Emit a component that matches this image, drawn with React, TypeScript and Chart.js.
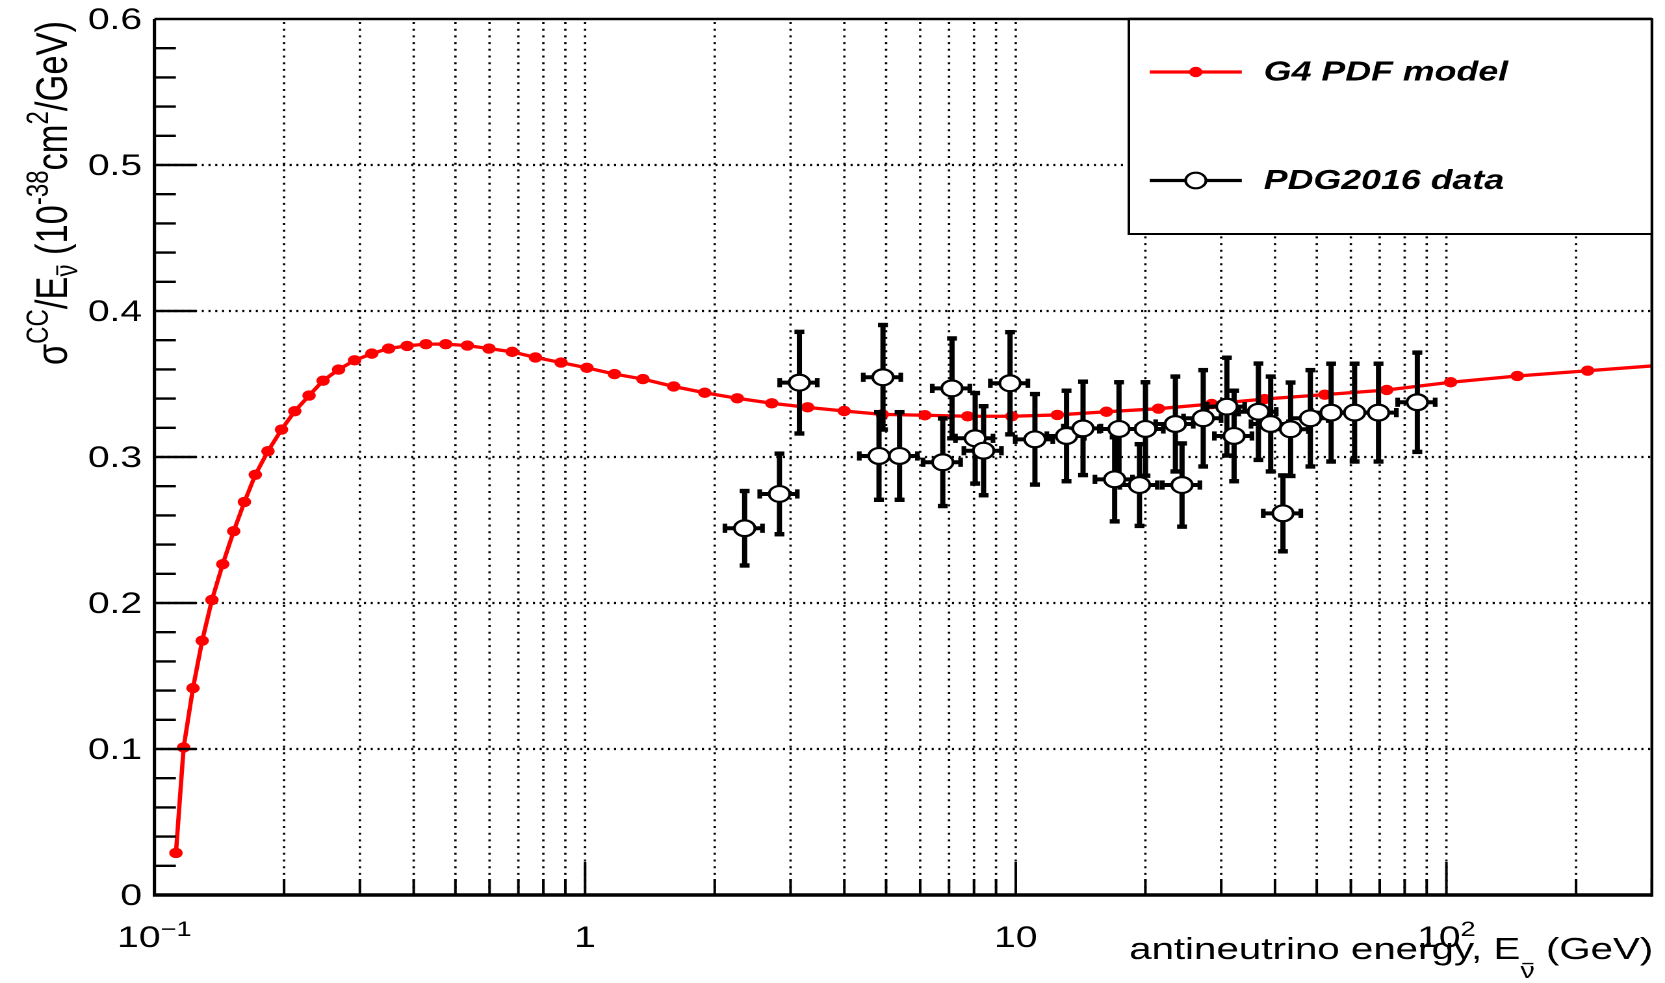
import React, { useEffect, useRef } from 'react';
import { Chart, registerables } from 'chart.js';

Chart.register(...registerables);

// ---------------- data ----------------
const G4_ENERGY = [0.1122, 0.1169, 0.1229, 0.1291, 0.136, 0.1441, 0.1528, 0.1618, 0.1715, 0.1835, 0.1973, 0.2118, 0.2286, 0.2464, 0.2677, 0.2916, 0.3197, 0.3499, 0.3861, 0.4271, 0.4749, 0.533, 0.5982, 0.6773, 0.7669, 0.8794, 1.0095, 1.1703, 1.3625, 1.606, 1.896, 2.256, 2.713, 3.287, 3.996, 4.899, 6.151, 7.733, 9.79, 12.49, 16.24, 21.45, 28.5, 37.84, 52.2, 72.7, 102.3, 146.1, 212.8, 320];
const G4_SIGMA = [0.0288, 0.1011, 0.1417, 0.1742, 0.2021, 0.2266, 0.2492, 0.2692, 0.2878, 0.304, 0.3188, 0.3314, 0.3421, 0.3523, 0.3599, 0.3662, 0.3708, 0.3743, 0.3761, 0.3773, 0.3773, 0.3763, 0.3743, 0.372, 0.3682, 0.3647, 0.3611, 0.3568, 0.3534, 0.3483, 0.344, 0.3402, 0.3368, 0.334, 0.3315, 0.3292, 0.3286, 0.3279, 0.3279, 0.3288, 0.331, 0.3331, 0.3363, 0.3397, 0.3427, 0.3459, 0.3512, 0.3555, 0.3591, 0.363];

const PDG_ENERGY = [2.347, 2.827, 3.145, 4.814, 4.917, 5.373, 6.77, 7.112, 8.05, 8.42, 9.7, 11.08, 13.12, 14.33, 16.97, 17.37, 19.38, 20.01, 23.48, 24.33, 27.25, 30.92, 32.14, 36.6, 39.08, 41.73, 43.47, 48.33, 53.99, 61.21, 69.56, 85.6];
const PDG_SIGMA = [0.2512, 0.2747, 0.3509, 0.3007, 0.3546, 0.3007, 0.2964, 0.347, 0.3128, 0.3043, 0.3505, 0.3121, 0.3144, 0.3196, 0.2847, 0.3192, 0.2808, 0.3192, 0.3226, 0.2808, 0.3265, 0.3345, 0.3144, 0.331, 0.3226, 0.2614, 0.319, 0.3265, 0.3304, 0.3304, 0.3304, 0.3375];
const PDG_ERR = [0.0255, 0.0276, 0.0348, 0.03, 0.0358, 0.03, 0.03, 0.0342, 0.031, 0.0305, 0.035, 0.031, 0.031, 0.032, 0.0288, 0.032, 0.028, 0.032, 0.0325, 0.0285, 0.033, 0.0335, 0.031, 0.033, 0.0325, 0.026, 0.032, 0.033, 0.0335, 0.0335, 0.0335, 0.034];
const PDG_XERR_FRAC = 0.1;

const X_MIN = 0.1;
const X_MAX = 300;
const Y_MIN = 0;
const Y_MAX = 0.6;
const Y_TICK_VALUES = [0, 0.1, 0.2, 0.3, 0.4, 0.5, 0.6];
const Y_TICK_LABELS = ['0', '0.1', '0.2', '0.3', '0.4', '0.5', '0.6'];
const X_DECADES = [0.1, 1, 10, 100];
const X_TICK_BASES = ['10', '1', '10', '10'];
const X_TICK_SUPS = ['\u22121', '', '', '2'];
const LEGEND_LABELS = ['G4 PDF model', 'PDG2016 data'];

// ---------------- geometry ----------------
const SX = 1.3; // the reference is stretched horizontally
const W = 1665;
const H = 983;
const BW = Math.round(W / SX);
const FONT = "'Liberation Sans', Arial, Helvetica, sans-serif";

type Run = { t: string; s: number; dy?: number; bar?: boolean; st?: string };

const X_TITLE: Run[] = [
  { t: 'antineutrino energy, E', s: 31 },
  { t: '\u03BD', s: 22, dy: 19, bar: true },
  { t: ' (GeV)', s: 31 },
];
const Y_TITLE: Run[] = [
  { t: '\u03C3', s: 34.5 },
  { t: 'CC', s: 24, dy: -14.5 },
  { t: '/E', s: 34.5 },
  { t: '\u03BD', s: 24, dy: 8, bar: true },
  { t: ' (10', s: 34.5 },
  { t: '-38', s: 24, dy: -14.5 },
  { t: 'cm', s: 34.5 },
  { t: '2', s: 24, dy: -14.5 },
  { t: '/GeV)', s: 34.5 },
];

function measureRuns(ctx: CanvasRenderingContext2D, runs: Run[]) {
  let w = 0;
  for (const r of runs) {
    ctx.font = `${r.st || ''} ${r.s}px ${FONT}`;
    w += ctx.measureText(r.t).width;
  }
  return w;
}

function drawRuns(ctx: CanvasRenderingContext2D, runs: Run[], x: number, y: number) {
  let cx = x;
  for (const r of runs) {
    ctx.font = `${r.st || ''} ${r.s}px ${FONT}`;
    const w = ctx.measureText(r.t).width;
    const by = y + (r.dy || 0);
    ctx.fillText(r.t, cx, by);
    if (r.bar) {
      ctx.save();
      ctx.lineWidth = 1.4;
      ctx.beginPath();
      const yy = by - r.s * 0.52 - 3;
      ctx.moveTo(cx + 1.5, yy);
      ctx.lineTo(cx + w - 1, yy);
      ctx.stroke();
      ctx.restore();
    }
    cx += w;
  }
  return cx - x;
}

function allXTicks() {
  const out: { v: number; major: boolean }[] = [];
  for (const d of X_DECADES) {
    for (let k = 1; k <= 9; k++) {
      const v = d * k;
      if (v < X_MIN - 1e-9 || v > X_MAX + 1e-9) continue;
      out.push({ v, major: k === 1 });
    }
  }
  return out;
}

const rootPlugin = {
  id: 'rootStyle',
  beforeDraw(chart: any) {
    const ctx = chart.ctx as CanvasRenderingContext2D;
    ctx.save();
    ctx.fillStyle = '#fff';
    ctx.fillRect(0, 0, chart.width, chart.height);
    ctx.restore();
  },
  beforeDatasetsDraw(chart: any) {
    const ctx = chart.ctx as CanvasRenderingContext2D;
    const { left, right, top, bottom } = chart.chartArea;
    const xs = chart.scales.x;
    const ys = chart.scales.y;
    ctx.save();
    ctx.strokeStyle = '#000';
    // vertical dotted grid
    ctx.lineWidth = 1.8;
    ctx.setLineDash([2, 4.7]);
    for (const t of allXTicks()) {
      if (t.v <= X_MIN + 1e-9 || t.v >= X_MAX - 1e-9) continue;
      const px = xs.getPixelForValue(t.v);
      ctx.beginPath();
      ctx.moveTo(px, bottom);
      ctx.lineTo(px, top);
      ctx.stroke();
    }
    // horizontal dotted grid
    ctx.lineWidth = 2.2;
    ctx.setLineDash([1.6, 3.6]);
    for (const v of Y_TICK_VALUES) {
      if (v <= Y_MIN || v >= Y_MAX) continue;
      const py = ys.getPixelForValue(v);
      ctx.beginPath();
      ctx.moveTo(left, py);
      ctx.lineTo(right, py);
      ctx.stroke();
    }
    ctx.restore();
  },
  beforeDatasetDraw(chart: any, args: any) {
    if (args.index !== 0) return;
    const ctx = chart.ctx as CanvasRenderingContext2D;
    const xs = chart.scales.x;
    const ys = chart.scales.y;
    ctx.save();
    ctx.strokeStyle = '#000';
    ctx.fillStyle = '#000';
    ctx.lineWidth = 4;
    for (let i = 0; i < PDG_ENERGY.length; i++) {
      const e = PDG_ENERGY[i];
      const v = PDG_SIGMA[i];
      const err = PDG_ERR[i];
      const px = xs.getPixelForValue(e);
      const py = ys.getPixelForValue(v);
      const pyT = ys.getPixelForValue(v + err);
      const pyB = ys.getPixelForValue(v - err);
      const pxL = xs.getPixelForValue(e * (1 - PDG_XERR_FRAC));
      const pxR = xs.getPixelForValue(e * (1 + PDG_XERR_FRAC));
      ctx.beginPath();
      ctx.moveTo(px, pyT);
      ctx.lineTo(px, pyB);
      ctx.moveTo(pxL, py);
      ctx.lineTo(pxR, py);
      ctx.stroke();
      ctx.fillRect(px - 3.8, pyT - 2.2, 7.6, 4.4);
      ctx.fillRect(px - 3.8, pyB - 2.2, 7.6, 4.4);
      ctx.fillRect(pxL - 1.8, py - 4.6, 3.6, 9.2);
      ctx.fillRect(pxR - 1.8, py - 4.6, 3.6, 9.2);
    }
    ctx.restore();
  },
  afterDatasetsDraw(chart: any) {
    const ctx = chart.ctx as CanvasRenderingContext2D;
    const { left, right, top, bottom } = chart.chartArea;
    const xs = chart.scales.x;
    const ys = chart.scales.y;
    ctx.save();
    ctx.strokeStyle = '#000';
    ctx.fillStyle = '#000';
    ctx.setLineDash([]);

    // ticks
    ctx.lineWidth = 2.4;
    for (let i = 0; i < Y_TICK_VALUES.length - 1; i++) {
      for (let k = 0; k < 5; k++) {
        const v = Y_TICK_VALUES[i] + (k * (Y_TICK_VALUES[i + 1] - Y_TICK_VALUES[i])) / 5;
        const py = ys.getPixelForValue(v);
        const len = k === 0 ? 32 : 16.5;
        ctx.beginPath();
        ctx.moveTo(left, py);
        ctx.lineTo(left + len, py);
        ctx.stroke();
      }
    }
    ctx.lineWidth = 2;
    for (const t of allXTicks()) {
      const px = xs.getPixelForValue(t.v);
      const len = t.major ? 33 : 16;
      ctx.beginPath();
      ctx.moveTo(px, bottom);
      ctx.lineTo(px, bottom - len);
      ctx.stroke();
    }

    // frame
    ctx.lineWidth = 2.6;
    ctx.beginPath();
    ctx.moveTo(left, top);
    ctx.lineTo(left, bottom);
    ctx.stroke();
    ctx.lineWidth = 3.4;
    ctx.beginPath();
    ctx.moveTo(left - 1.3, bottom);
    ctx.lineTo(right, bottom);
    ctx.stroke();
    ctx.lineWidth = 2.4;
    ctx.beginPath();
    ctx.moveTo(left, top);
    ctx.lineTo(right, top);
    ctx.stroke();
    ctx.lineWidth = 2.2;
    ctx.beginPath();
    ctx.moveTo(right, top);
    ctx.lineTo(right, bottom + 1.7);
    ctx.stroke();

    // y tick labels
    ctx.font = `30px ${FONT}`;
    ctx.textAlign = 'right';
    ctx.textBaseline = 'middle';
    for (let i = 0; i < Y_TICK_VALUES.length; i++) {
      const py = ys.getPixelForValue(Y_TICK_VALUES[i]);
      ctx.fillText(Y_TICK_LABELS[i], left - 9.5, py + 1.5);
    }

    // x tick labels
    ctx.textAlign = 'left';
    ctx.textBaseline = 'alphabetic';
    for (let i = 0; i < X_DECADES.length; i++) {
      const runs: Run[] = [{ t: X_TICK_BASES[i], s: 30 }];
      if (X_TICK_SUPS[i]) runs.push({ t: X_TICK_SUPS[i], s: 21, dy: -11 });
      const w = measureRuns(ctx, runs);
      const px = xs.getPixelForValue(X_DECADES[i]);
      drawRuns(ctx, runs, px - w / 2, 947);
    }

    // x title (right aligned)
    const xtw = measureRuns(ctx, X_TITLE);
    drawRuns(ctx, X_TITLE, 1272 - xtw, 959);

    // y title (rotated, aligned to top)
    const ytw = measureRuns(ctx, Y_TITLE);
    ctx.save();
    ctx.translate(51.5, 21 + ytw);
    ctx.rotate(-Math.PI / 2);
    drawRuns(ctx, Y_TITLE, 0, 0);
    ctx.restore();

    // legend
    const lx0 = 868.5;
    const lx1 = right;
    const ly0 = top;
    const ly1 = 234;
    ctx.fillStyle = '#fff';
    ctx.fillRect(lx0, ly0, lx1 - lx0, ly1 - ly0);
    ctx.strokeStyle = '#000';
    ctx.lineWidth = 2;
    ctx.strokeRect(lx0, ly0, lx1 - lx0, ly1 - ly0);
    ctx.lineWidth = 2.4;
    ctx.beginPath();
    ctx.moveTo(lx0, ly0);
    ctx.lineTo(lx1, ly0);
    ctx.stroke();

    const rows = [72, 180.5];
    const sx0 = 884.6;
    const sx1 = 955.4;
    const scx = (sx0 + sx1) / 2;
    // G4 entry
    ctx.strokeStyle = '#ff0000';
    ctx.lineWidth = 3.3;
    ctx.beginPath();
    ctx.moveTo(sx0, rows[0]);
    ctx.lineTo(sx1, rows[0]);
    ctx.stroke();
    ctx.fillStyle = '#ff0000';
    ctx.beginPath();
    ctx.arc(scx, rows[0], 5.2, 0, Math.PI * 2);
    ctx.fill();
    // PDG entry
    ctx.strokeStyle = '#000';
    ctx.lineWidth = 3.3;
    ctx.beginPath();
    ctx.moveTo(sx0, rows[1]);
    ctx.lineTo(sx1, rows[1]);
    ctx.stroke();
    ctx.fillStyle = '#fff';
    ctx.lineWidth = 2.2;
    ctx.beginPath();
    ctx.arc(scx, rows[1], 7.8, 0, Math.PI * 2);
    ctx.fill();
    ctx.stroke();

    ctx.fillStyle = '#000';
    ctx.font = `italic bold 27.5px ${FONT}`;
    ctx.textAlign = 'left';
    ctx.textBaseline = 'middle';
    ctx.fillText(LEGEND_LABELS[0], 972.3, rows[0] + 1);
    ctx.fillText(LEGEND_LABELS[1], 972.3, rows[1] + 1);

    ctx.restore();
  },
};

export default function App() {
  const ref = useRef<HTMLCanvasElement | null>(null);

  useEffect(() => {
    document.body.style.margin = '0';
    const canvas = ref.current;
    if (!canvas) return;
    const pdgData = PDG_ENERGY.map((e, i) => ({ x: e, y: PDG_SIGMA[i] }));
    const g4Data = G4_ENERGY.map((e, i) => ({ x: e, y: G4_SIGMA[i] }));
    const chart = new Chart(canvas, {
      type: 'scatter',
      data: {
        datasets: [
          {
            label: LEGEND_LABELS[1],
            data: pdgData,
            showLine: false,
            pointStyle: 'circle',
            pointRadius: 7.9,
            pointHoverRadius: 7.9,
            pointBackgroundColor: '#ffffff',
            pointBorderColor: '#000000',
            pointBorderWidth: 2.2,
            pointHoverBorderWidth: 2.2,
          },
          {
            type: 'line',
            label: LEGEND_LABELS[0],
            data: g4Data,
            showLine: true,
            borderColor: '#ff0000',
            borderWidth: 3.3,
            tension: 0,
            fill: false,
            pointRadius: 5.2,
            pointHoverRadius: 5.2,
            pointBackgroundColor: '#ff0000',
            pointBorderWidth: 0,
            pointBorderColor: '#ff0000',
          },
        ],
      } as any,
      options: {
        responsive: false,
        animation: false,
        devicePixelRatio: 2,
        events: [],
        layout: { padding: { left: 118.8, right: BW - 1274.6, top: 19, bottom: H - 895 } },
        plugins: { legend: { display: false }, tooltip: { enabled: false } },
        scales: {
          x: { type: 'logarithmic', min: X_MIN, max: X_MAX, display: false },
          y: { type: 'linear', min: Y_MIN, max: Y_MAX, display: false },
        },
      } as any,
      plugins: [rootPlugin],
    });
    return () => chart.destroy();
  }, []);

  return (
    <div style={{ width: W, height: H, overflow: 'hidden' }}>
      <canvas
        ref={ref}
        width={BW}
        height={H}
        style={{ width: `${W}px`, height: `${H}px`, display: 'block' }}
      />
    </div>
  );
}
